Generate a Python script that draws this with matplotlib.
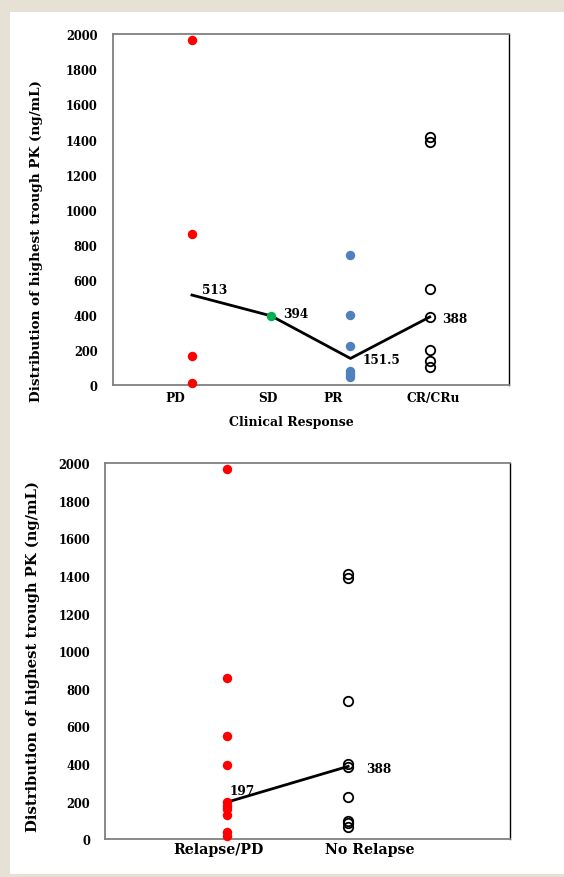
import matplotlib
matplotlib.use("Agg")
import matplotlib.pyplot as plt
from matplotlib.patches import Rectangle

# top panel: clinical response
resp_labels = ["PD", "SD", "PR", "CR/CRu"]
pd_vals = [1970, 860, 165, 10]
sd_vals = [394]
pr_vals = [740, 400, 225, 82, 62, 45]
cr_vals = [1412, 1388, 549, 388, 197, 135, 100]
resp_medians = [513, 394, 151.5, 388]

# bottom panel: relapse
relapse_labels = ["Relapse/PD", "No Relapse"]
relapse_vals = [1970, 860, 550, 395, 197, 178, 160, 130, 40, 15]
norelapse_vals = [1412, 1388, 738, 398, 385, 223, 100, 88, 68]
relapse_medians = [197, 388]

W, H = 564, 878
FONT = "DejaVu Serif"
plt.rcParams["font.family"] = FONT
plt.rcParams["font.weight"] = "bold"

fig = plt.figure(figsize=(W / 100, H / 100), dpi=100, facecolor="#e7e0d4")
fig.patches.append(Rectangle((10 / W, 3 / H), 1 - 10 / W, (H - 16) / H,
                             transform=fig.transFigure, facecolor="white",
                             edgecolor="none", zorder=-5))


def px_axes(left, top, right, bottom):
    return fig.add_axes([left / W, 1 - bottom / H, (right - left) / W, (bottom - top) / H])


def style(ax):
    ax.set_ylim(0, 2000)
    ax.set_yticks(range(0, 2001, 200))
    ax.tick_params(axis="y", length=0, pad=11, labelsize=8.3)
    ax.tick_params(axis="x", length=0, labelbottom=False)
    for s in ("left", "bottom", "top"):
        ax.spines[s].set_color("#808080")
        ax.spines[s].set_linewidth(1.3)
    ax.spines["right"].set_color("black")
    ax.spines["right"].set_linewidth(1.0)
    ax.patch.set_alpha(0)
    for lab in ax.get_yticklabels():
        lab.set_fontweight("bold")


ms = 6.8
# ---- top
ax1 = px_axes(112.7, 35.3, 509, 386)
ax1.set_xlim(0, 5)
style(ax1)
ax1.plot([1, 2, 3, 4], resp_medians, color="black", lw=2, zorder=2)
ax1.plot([1] * len(pd_vals), pd_vals, "o", color="#ff0000", ms=ms, mew=0, zorder=3, clip_on=False)
ax1.plot([2] * len(sd_vals), sd_vals, "o", color="#00b050", ms=ms, mew=0, zorder=3)
ax1.plot([3] * len(pr_vals), pr_vals, "o", color="#4f81bd", ms=ms, mew=0, zorder=3)
ax1.plot([4] * len(cr_vals), cr_vals, "o", mfc="none", mec="black", ms=ms, mew=1.3, zorder=3)
for x, lab in zip([0.79, 1.96, 2.78, 4.04], resp_labels):
    ax1.text(x, -13 / 350.7, lab, transform=ax1.get_xaxis_transform(), ha="center",
             va="center", fontsize=8.8, fontweight="bold")
for x, y, v in zip([1.13, 2.15, 3.15, 4.15], [547, 410, 148, 382], resp_medians):
    ax1.text(x, y, f"{v:g}", ha="left", va="center", fontsize=8.7, fontweight="bold")
fig.text(291 / W, 1 - 423 / H, "Clinical Response", ha="center", va="center",
         fontsize=9, fontweight="bold")
fig.text(37 / W, 1 - 241 / H, "Distribution of highest trough PK (ng/mL)", rotation=90,
         ha="center", va="center", fontsize=9.7, fontweight="bold")

# ---- bottom
ax2 = px_axes(105.3, 464.3, 510, 840.3)
ax2.set_xlim(0, 10)
style(ax2)
ax2.plot([3, 6], relapse_medians, color="black", lw=2, zorder=2)
ax2.plot([3] * len(relapse_vals), relapse_vals, "o", color="#ff0000", ms=ms, mew=0, zorder=3,
         clip_on=False)
ax2.plot([6] * len(norelapse_vals), norelapse_vals, "o", mfc="none", mec="black", ms=ms,
         mew=1.3, zorder=3)
for x, lab in zip([2.79, 6.54], relapse_labels):
    ax2.text(x, -10 / 376, lab, transform=ax2.get_xaxis_transform(), ha="center",
             va="center", fontsize=10.2, fontweight="bold")
ax2.text(3.07, 258, "197", ha="left", va="center", fontsize=8.7, fontweight="bold")
ax2.text(6.45, 379, "388", ha="left", va="center", fontsize=8.7, fontweight="bold")
fig.text(33 / W, 1 - 656.5 / H, "Distribution of highest trough PK (ng/mL)", rotation=90,
         ha="center", va="center", fontsize=10.6, fontweight="bold")

fig.savefig("out.png", dpi=100, facecolor=fig.get_facecolor())
